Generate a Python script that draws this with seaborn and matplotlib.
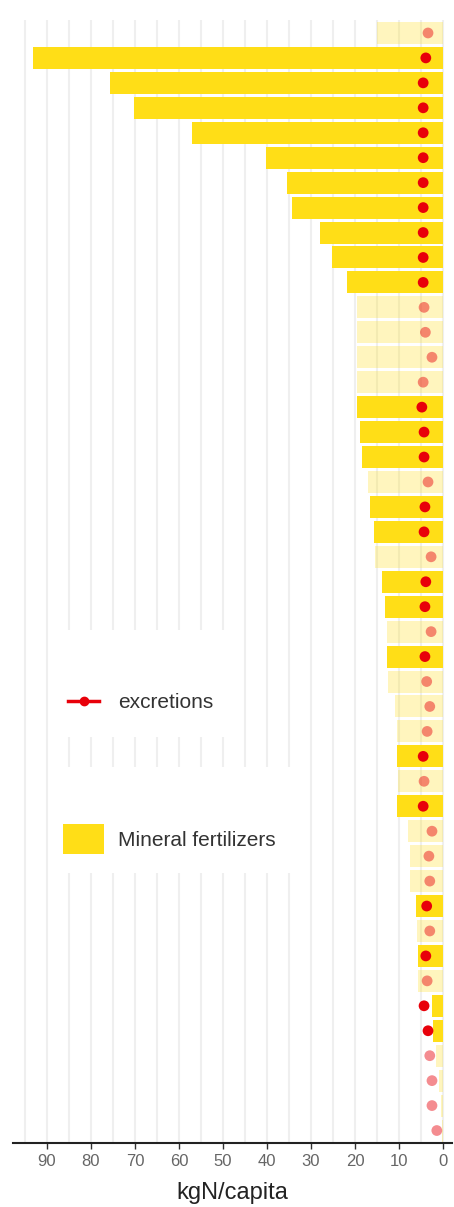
import matplotlib
matplotlib.use("Agg")
import matplotlib.pyplot as plt
import matplotlib.patches as mpatches
from matplotlib.lines import Line2D
import numpy as np
import pandas as pd
import seaborn as sns

# mineral fertilizer use per row (kgN/capita), top to bottom
fertilizers = [15, 93.2, 75.7, 70.2, 57, 40.2, 35.5, 34.3, 28, 25.2,
               21.8, 19.5, 19.5, 19.5, 19.5, 19.5, 18.9, 18.4, 17, 16.6,
               15.7, 15.5, 13.9, 13.2, 12.7, 12.7, 12.5, 10.9, 10.5, 10.5,
               10.2, 10.5, 8, 7.5, 7.5, 6.1, 6, 5.6, 5.6, 2.5,
               2.3, 1.5, 1, 0.5, 0.3]
# human excretions per row (kgN/capita)
excretions = [3.4, 3.9, 4.5, 4.5, 4.5, 4.5, 4.5, 4.5, 4.5, 4.5,
              4.5, 4.3, 4.0, 2.5, 4.5, 4.8, 4.3, 4.3, 3.4, 4.1,
              4.3, 2.7, 3.9, 4.1, 2.7, 4.1, 3.7, 3.0, 3.6, 4.5,
              4.3, 4.5, 2.5, 3.2, 3.0, 3.7, 3.0, 3.9, 3.6, 4.3,
              3.4, 3.0, 2.5, 2.5, 1.4]
# rows drawn at full opacity
highlight = [0, 1, 1, 1, 1, 1, 1, 1, 1, 1,
             1, 0, 0, 0, 0, 1, 1, 1, 0, 1,
             1, 0, 1, 1, 0, 1, 0, 0, 0, 1,
             0, 1, 0, 0, 0, 1, 0, 1, 0, 1,
             1, 0, 0, 0, 0]
x_ticks = [0, 10, 20, 30, 40, 50, 60, 70, 80, 90]

GOLD = "#FFDE17"
RED = "#E8000A"

df = pd.DataFrame({
    "row": [f"r{i:02d}" for i in range(len(fertilizers))],
    "pos": np.arange(len(fertilizers)),
    "fert": fertilizers,
    "excr": excretions,
    "hl": [bool(h) for h in highlight],
})

plt.rcParams["font.family"] = ["Liberation Sans", "DejaVu Sans"]

W, H = 454, 1207
fig = plt.figure(figsize=(W / 100, H / 100), dpi=100)
ax = fig.add_axes([13 / W, 1 - 1143 / H, (452 - 13) / W, (1143 - 20) / H])

sns.barplot(data=df, x="fert", y="row", order=df["row"], orient="h",
            color=GOLD, width=0.88, saturation=1, errorbar=None, ax=ax)
for p, h in zip(ax.patches, df["hl"]):
    p.set_alpha(1.0 if h else 0.28)
    p.set_edgecolor("none")

sns.scatterplot(data=df[df["hl"]], x="excr", y="pos", color=RED, s=60,
                edgecolor="none", zorder=3, ax=ax)
sns.scatterplot(data=df[~df["hl"]], x="excr", y="pos", color=RED, s=60,
                alpha=0.45, edgecolor="none", zorder=3, ax=ax)

ax.set_xlim(97.7, -2.05)
ax.set_ylim(len(fertilizers) - 0.5, -0.52)
ax.set_xticks(x_ticks)
ax.set_xticks(np.arange(5, 100, 10), minor=True)
ax.set_yticks([])
ax.set_ylabel("")
ax.set_axisbelow(True)
ax.grid(True, axis="x", which="both", color="#EFEFEF", lw=1.5)
ax.grid(False, axis="y")
for s in ["top", "right", "left"]:
    ax.spines[s].set_visible(False)
ax.spines["bottom"].set_color("#222222")
ax.spines["bottom"].set_linewidth(1.5)
ax.tick_params(axis="x", which="major", length=4, width=1, color="#333333",
               labelsize=12, labelcolor="#666666", pad=4)
ax.tick_params(axis="x", which="minor", length=0)
ax.set_xlabel("kgN/capita", fontsize=17, color="#222222", labelpad=9)

# legend backgrounds
for (x0, x1, y0, y1) in [(60, 243, 630, 737), (60, 300, 767, 873)]:
    ax.add_patch(mpatches.Rectangle((x0 / W, 1 - y1 / H), (x1 - x0) / W,
                                    (y1 - y0) / H, transform=fig.transFigure,
                                    facecolor="white", edgecolor="none",
                                    zorder=4, clip_on=False))

h1 = Line2D([], [], color=RED, lw=2.5, marker="o", markersize=6)
leg1 = ax.legend([h1], ["excretions"], loc="center left",
                 bbox_to_anchor=(68 / W, 1 - 703 / H),
                 bbox_transform=fig.transFigure, frameon=False, fontsize=15,
                 handlelength=1.5, handletextpad=0.9, borderpad=0,
                 borderaxespad=0, labelcolor="#333333")
leg1.set_zorder(5)
ax.add_artist(leg1)

h2 = mpatches.Patch(facecolor=GOLD, edgecolor="none")
leg2 = ax.legend([h2], ["Mineral fertilizers"], loc="center left",
                 bbox_to_anchor=(63 / W, 1 - 839 / H),
                 bbox_transform=fig.transFigure, frameon=False, fontsize=15,
                 handlelength=1.95, handleheight=1.8, handletextpad=0.7,
                 borderpad=0, borderaxespad=0, labelcolor="#333333")
leg2.set_zorder(5)

fig.savefig("out.png", dpi=100)
